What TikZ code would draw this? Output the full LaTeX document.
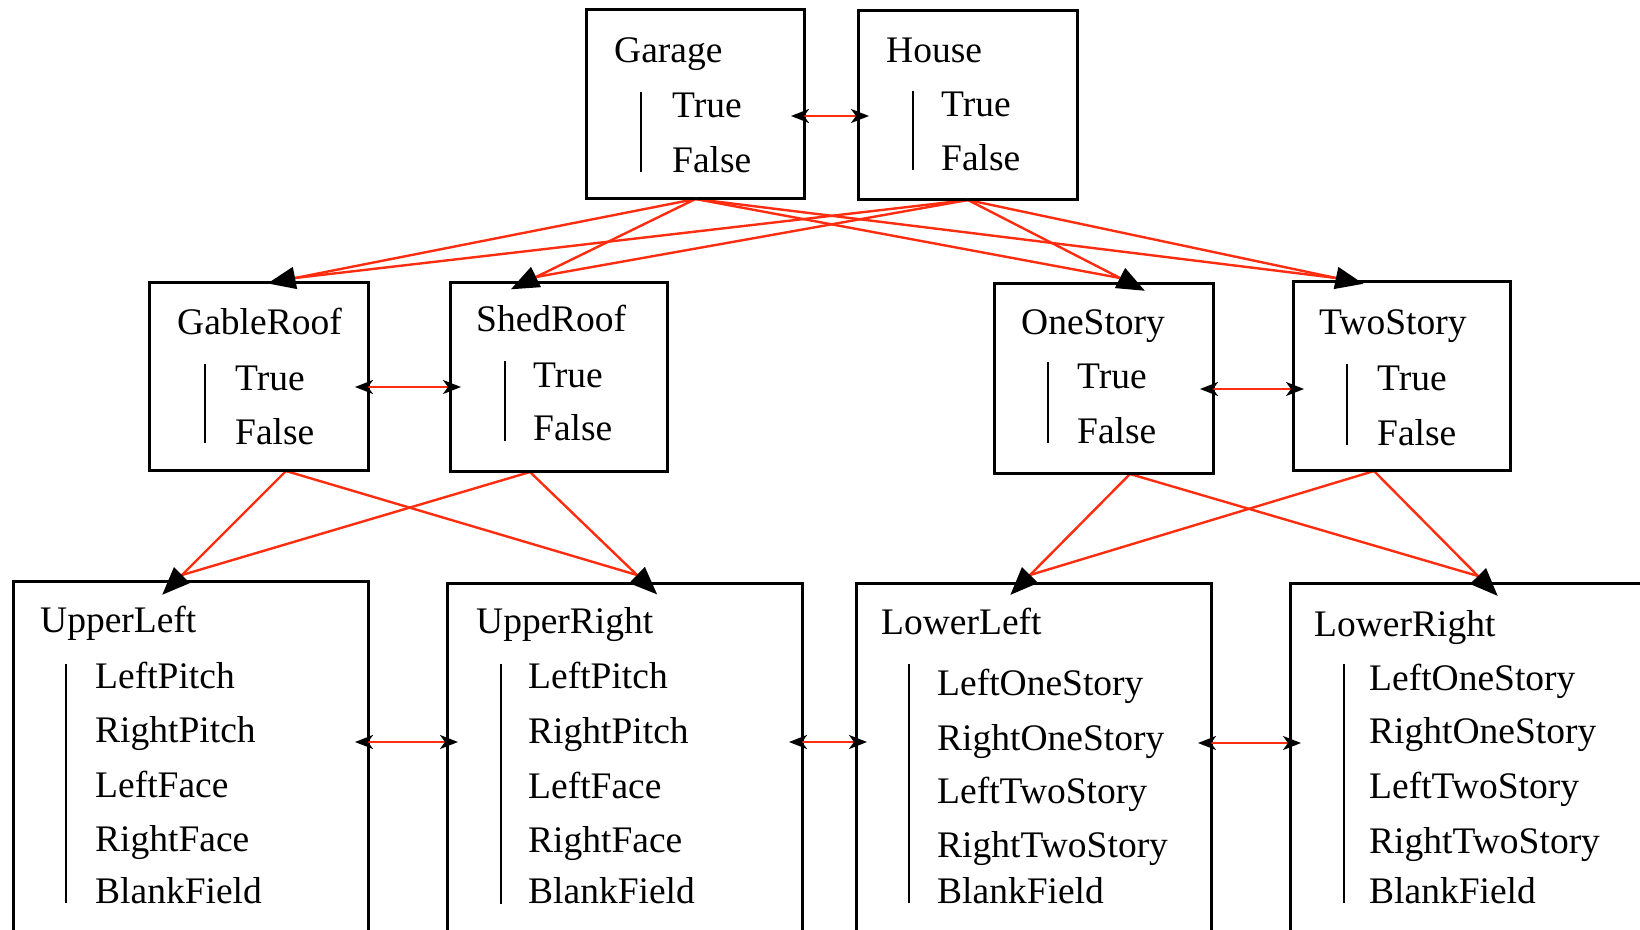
\documentclass[tikz,border=0pt]{standalone}
\usepackage{fontspec}
\setmainfont{Liberation Serif}
\usetikzlibrary{arrows.meta,calc}
\definecolor{edgered}{RGB}{255,45,15}
\begin{document}
\begin{tikzpicture}[x=1pt,y=-1pt,
  box/.style={draw, line width=2pt, anchor=north west, inner sep=0pt},
  lbl/.style={anchor=base west, inner sep=0pt, font=\fontsize{37.5}{45}\selectfont},
  bar/.style={line width=2.2pt},
  edge/.style={draw=edgered, line width=2.4pt},
  headed/.style={-{Triangle[length=28pt,width=22pt,color=black]}, shorten >=-28pt},
  dbl/.style={draw=edgered, line width=2.4pt,
    {Stealth[length=18pt,width=14pt,inset=5pt,color=black]}-{Stealth[length=18pt,width=14pt,inset=5pt,color=black]},
    shorten <=-14pt, shorten >=-11pt}]
\useasboundingbox (0,0) rectangle (1640,929);
\clip (0,0) rectangle (1640,929);

% ---- boxes ----
\node[box, minimum width=217pt, minimum height=188pt] (garage) at (586,9) {};
\node[box, minimum width=218pt, minimum height=188pt] (house) at (858,10) {};
\node[box, minimum width=218pt, minimum height=187pt] (gable) at (149,282) {};
\node[box, minimum width=216pt, minimum height=188pt] (shed) at (450,282) {};
\node[box, minimum width=218pt, minimum height=189pt] (one) at (994,283) {};
\node[box, minimum width=216pt, minimum height=188pt] (two) at (1293,281) {};
\node[box, minimum width=354pt, minimum height=400pt] (ul) at (13,581) {};
\node[box, minimum width=354pt, minimum height=400pt] (ur) at (447,583) {};
\node[box, minimum width=354pt, minimum height=400pt] (ll) at (856,583) {};
\node[box, minimum width=354pt, minimum height=400pt] (lr) at (1290,583) {};

% ---- ports where the edges leave and meet ----
\coordinate (gable-out) at ($(gable.south west)+(137,0)$);
\coordinate (shed-out)  at ($(shed.south west)+(80,0)$);
\coordinate (one-out)   at ($(one.south west)+(136,0)$);
\coordinate (two-out)   at ($(two.south west)+(81,0)$);
\coordinate (gable-in) at (295,278);
\coordinate (shed-in)  at (536,277);
\coordinate (one-in)   at (1120,278);
\coordinate (two-in)   at (1336,278);
\coordinate (ul-in) at (182,575);
\coordinate (ur-in) at (637,575);
\coordinate (ll-in) at (1030,575);
\coordinate (lr-in) at (1478,576);

% ---- edges between levels ----
\draw[edge] (house.south) -- (gable-in);
\draw[edge] (house.south) -- (shed-in);
\draw[edge] (garage.south) -- (one-in);
\draw[edge] (garage.south) -- (two-in);
\draw[edge] (shed-out) -- (ul-in);
\draw[edge] (gable-out) -- (ur-in);
\draw[edge] (two-out) -- (ll-in);
\draw[edge] (one-out) -- (lr-in);
\draw[edge, headed] (garage.south) -- (gable-in);
\draw[edge, headed] (garage.south) -- (shed-in);
\draw[edge, headed] (house.south) -- (one-in);
\draw[edge, headed] (house.south) -- (two-in);
\draw[edge, headed] (gable-out) -- (ul-in);
\draw[edge, headed] (shed-out) -- (ur-in);
\draw[edge, headed] (one-out) -- (ll-in);
\draw[edge, headed] (two-out) -- (lr-in);

% ---- redraw box outlines over the edge starts ----
\foreach \b in {garage,house,gable,shed,one,two,ul,ur,ll,lr}
  \draw[line width=2pt] (\b.north west) rectangle (\b.south east);

% ---- Garage ----
\node[lbl] (garage-t) at (614,62) {Garage};
\draw[bar] (641,92) -- (641,172);
\node[lbl] (garage-1) at (672,117) {True};
\node[lbl] (garage-2) at (672,172) {False};
% ---- House ----
\node[lbl] (house-t) at (886,62) {House};
\draw[bar] (913,91) -- (913,170);
\node[lbl] (house-1) at (941,116) {True};
\node[lbl] (house-2) at (941,170) {False};
% ---- GableRoof ----
\node[lbl] (gable-t) at (177,334) {GableRoof};
\draw[bar] (205,364) -- (205,443);
\node[lbl] (gable-1) at (235,390) {True};
\node[lbl] (gable-2) at (235,444) {False};
% ---- ShedRoof ----
\node[lbl] (shed-t) at (476,331) {ShedRoof};
\draw[bar] (505,361) -- (505,441);
\node[lbl] (shed-1) at (533,387) {True};
\node[lbl] (shed-2) at (533,440) {False};
% ---- OneStory ----
\node[lbl] (one-t) at (1021,334) {OneStory};
\draw[bar] (1048,362) -- (1048,443);
\node[lbl] (one-1) at (1077,388) {True};
\node[lbl] (one-2) at (1077,443) {False};
% ---- TwoStory ----
\node[lbl] (two-t) at (1319,334) {TwoStory};
\draw[bar] (1347,364) -- (1347,445);
\node[lbl] (two-1) at (1377,390) {True};
\node[lbl] (two-2) at (1377,445) {False};
% ---- UpperLeft ----
\node[lbl] (ul-t) at (40,632) {UpperLeft};
\draw[bar] (66,664) -- (66,903);
\node[lbl] (ul-1) at (95,688) {LeftPitch};
\node[lbl] (ul-2) at (95,742) {RightPitch};
\node[lbl] (ul-3) at (95,797) {LeftFace};
\node[lbl] (ul-4) at (95,851) {RightFace};
\node[lbl] (ul-5) at (95,903) {BlankField};
% ---- UpperRight ----
\node[lbl] (ur-t) at (476,633) {UpperRight};
\draw[bar] (501,664) -- (501,904);
\node[lbl] (ur-1) at (528,688) {LeftPitch};
\node[lbl] (ur-2) at (528,743) {RightPitch};
\node[lbl] (ur-3) at (528,798) {LeftFace};
\node[lbl] (ur-4) at (528,852) {RightFace};
\node[lbl] (ur-5) at (528,903) {BlankField};
% ---- LowerLeft ----
\node[lbl] (ll-t) at (881,634) {LowerLeft};
\draw[bar] (909,664) -- (909,903);
\node[lbl] (ll-1) at (937,695) {LeftOneStory};
\node[lbl] (ll-2) at (937,750) {RightOneStory};
\node[lbl] (ll-3) at (937,803) {LeftTwoStory};
\node[lbl] (ll-4) at (937,857) {RightTwoStory};
\node[lbl] (ll-5) at (937,903) {BlankField};
% ---- LowerRight ----
\node[lbl] (lr-t) at (1314,636) {LowerRight};
\draw[bar] (1344,664) -- (1344,903);
\node[lbl] (lr-1) at (1369,690) {LeftOneStory};
\node[lbl] (lr-2) at (1369,743) {RightOneStory};
\node[lbl] (lr-3) at (1369,798) {LeftTwoStory};
\node[lbl] (lr-4) at (1369,853) {RightTwoStory};
\node[lbl] (lr-5) at (1369,903) {BlankField};

% ---- two-way links between neighbours ----
\draw[dbl] ($(garage.north east)+(0,107)$) -- ($(house.north west)+(0,106)$);
\draw[dbl] ($(gable.north east)+(0,105)$) -- ($(shed.north west)+(0,105)$);
\draw[dbl] ($(one.north east)+(0,106)$) -- ($(two.north west)+(0,108)$);
\draw[dbl] ($(ul.north east)+(0,161)$) -- ($(ur.north west)+(0,159)$);
\draw[dbl] ($(ur.north east)+(0,159)$) -- ($(ll.north west)+(0,159)$);
\draw[dbl] ($(ll.north east)+(0,160)$) -- ($(lr.north west)+(0,160)$);
\end{tikzpicture}
\end{document}
